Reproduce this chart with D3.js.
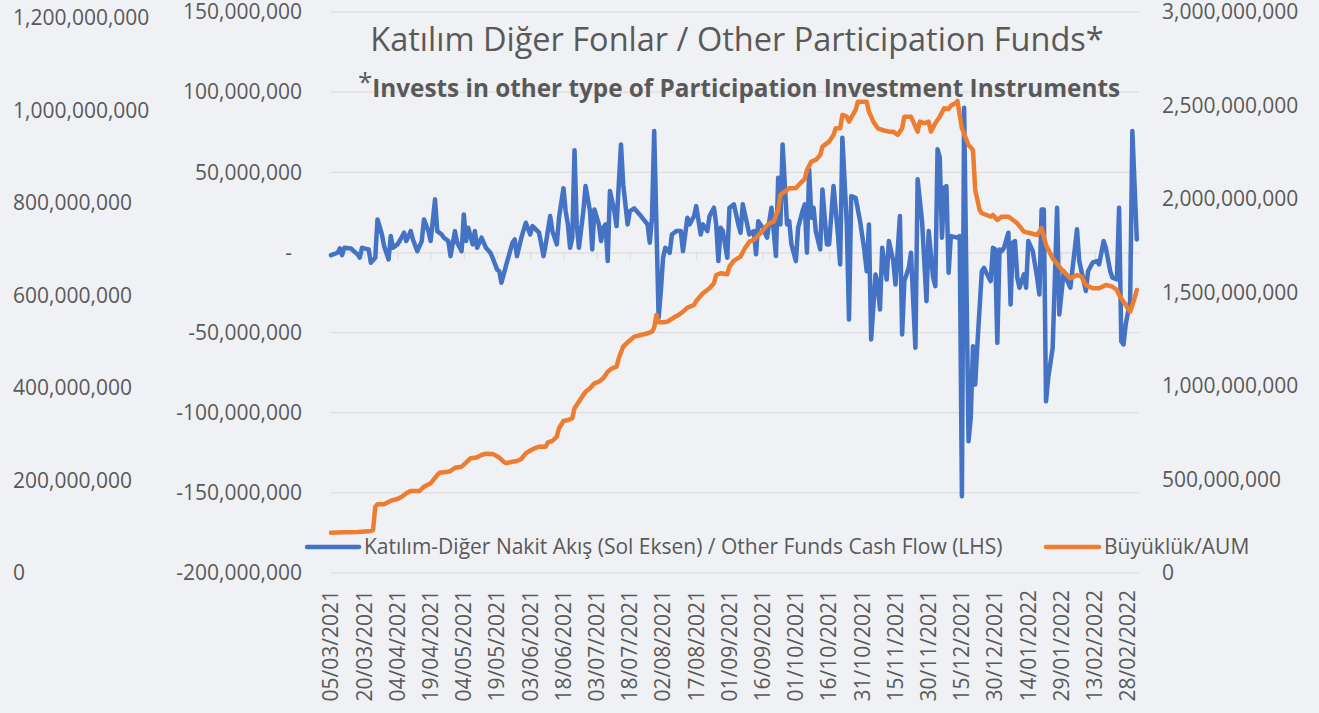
<!DOCTYPE html>
<html lang="tr">
<head>
    <meta charset="UTF-8">
    <title>Katılım Diğer Fonlar / Other Participation Funds</title>
    <script src="https://d3js.org/d3.v7.min.js"></script>
    <style>
        body{
            margin: 0;
            background-color: #f0f1f4;
        }
        #canvas{
            display: block;
            font-family: "Open Sans", sans-serif;
        }
        .lbl{
            font-size: 21px;
            fill: #595959;
        }
    </style>
</head>
<body>

<svg id="canvas" width="1319" height="713"></svg>

<script>
    // cash flow (left axis), millions TRY
    let flowDates = [
        "2021-03-05","2021-03-08","2021-03-09","2021-03-10","2021-03-11","2021-03-14","2021-03-15","2021-03-17","2021-03-18","2021-03-19",
        "2021-03-20","2021-03-22","2021-03-23","2021-03-25","2021-03-26","2021-03-28","2021-03-29","2021-03-31","2021-04-01","2021-04-02",
        "2021-04-04","2021-04-05","2021-04-07","2021-04-08","2021-04-10","2021-04-11","2021-04-13","2021-04-15","2021-04-16","2021-04-18",
        "2021-04-19","2021-04-21","2021-04-22","2021-04-24","2021-04-25","2021-04-27","2021-04-28","2021-04-30","2021-05-01","2021-05-03",
        "2021-05-04","2021-05-05","2021-05-06","2021-05-08","2021-05-09","2021-05-10","2021-05-12","2021-05-14","2021-05-16","2021-05-17",
        "2021-05-19","2021-05-20","2021-05-21","2021-05-23","2021-05-26","2021-05-27","2021-05-28","2021-05-30","2021-06-01","2021-06-03",
        "2021-06-04","2021-06-07","2021-06-09","2021-06-10","2021-06-12","2021-06-13","2021-06-15","2021-06-16","2021-06-18","2021-06-19",
        "2021-06-20","2021-06-21","2021-06-22","2021-06-23","2021-06-24","2021-06-25","2021-06-27","2021-06-28","2021-06-30","2021-07-01",
        "2021-07-02","2021-07-04","2021-07-05","2021-07-06","2021-07-07","2021-07-08","2021-07-09","2021-07-11","2021-07-12","2021-07-13",
        "2021-07-14","2021-07-15","2021-07-17","2021-07-18","2021-07-20","2021-07-23","2021-07-26","2021-07-27","2021-07-28","2021-07-29",
        "2021-07-31","2021-08-01","2021-08-02","2021-08-03","2021-08-05","2021-08-06","2021-08-08","2021-08-10","2021-08-11","2021-08-13",
        "2021-08-14","2021-08-16","2021-08-17","2021-08-19","2021-08-20","2021-08-22","2021-08-23","2021-08-25","2021-08-26","2021-08-27",
        "2021-08-28","2021-08-29","2021-08-31","2021-09-01","2021-09-03","2021-09-05","2021-09-06","2021-09-07","2021-09-09","2021-09-10",
        "2021-09-12","2021-09-13","2021-09-14","2021-09-16","2021-09-18","2021-09-19","2021-09-20","2021-09-22","2021-09-23","2021-09-24",
        "2021-09-25","2021-09-26","2021-09-27","2021-09-28","2021-09-29","2021-10-01","2021-10-02","2021-10-04","2021-10-05","2021-10-06",
        "2021-10-07","2021-10-08","2021-10-09","2021-10-10","2021-10-12","2021-10-13","2021-10-15","2021-10-16","2021-10-18","2021-10-20",
        "2021-10-21","2021-10-22","2021-10-24","2021-10-25","2021-10-26","2021-10-28","2021-10-30","2021-11-01","2021-11-02","2021-11-03",
        "2021-11-04","2021-11-06","2021-11-07","2021-11-08","2021-11-09","2021-11-11","2021-11-12","2021-11-14","2021-11-15","2021-11-17",
        "2021-11-18","2021-11-19","2021-11-21","2021-11-22","2021-11-23","2021-11-24","2021-11-25","2021-11-27","2021-11-28","2021-11-29",
        "2021-11-30","2021-12-02","2021-12-03","2021-12-04","2021-12-05","2021-12-06","2021-12-07","2021-12-08","2021-12-09","2021-12-10",
        "2021-12-13","2021-12-14","2021-12-15","2021-12-16","2021-12-18","2021-12-19","2021-12-20","2021-12-21","2021-12-22","2021-12-24",
        "2021-12-25","2021-12-26","2021-12-28","2021-12-29","2021-12-30","2021-12-31","2022-01-01","2022-01-02","2022-01-03","2022-01-05",
        "2022-01-06","2022-01-07","2022-01-08","2022-01-09","2022-01-10","2022-01-12","2022-01-13","2022-01-14","2022-01-16","2022-01-18",
        "2022-01-19","2022-01-20","2022-01-21","2022-01-22","2022-01-23","2022-01-25","2022-01-27","2022-01-28","2022-01-30","2022-01-31",
        "2022-02-02","2022-02-05","2022-02-06","2022-02-09","2022-02-10","2022-02-12","2022-02-14","2022-02-15","2022-02-17","2022-02-18",
        "2022-02-20","2022-02-21","2022-02-23","2022-02-24","2022-02-25","2022-02-26","2022-02-27","2022-03-01","2022-03-02","2022-03-04"
    ];
    let flowValues = [
        -1.7,-0.2,2.5,-1.7,2.9,2.5,1.2,-1.2,-3.3,2.9,
        2.5,1.9,-6.4,-3.3,20.6,11.2,3.9,-4.4,10.2,2.9,
        5.0,7.1,12.3,7.1,13.3,8.1,0.8,7.1,20.6,13.3,
        7.1,33.1,13.3,11.2,9.2,7.1,-2.3,13.3,6.1,0.8,
        23.7,7.1,15.4,5.0,13.3,2.9,9.2,2.9,-0.2,-3.3,
        -10.6,-11.7,-18.9,-8.5,6.1,8.1,-2.3,9.2,18.5,11.2,
        16.4,12.3,-2.3,5.0,22.7,13.3,5.0,21.7,40.0,25.8,
        17.5,2.9,9.2,63.7,17.5,2.9,25.8,41.4,25.8,1.9,
        26.8,17.5,7.1,15.4,17.5,-5.4,38.3,25.8,16.4,42.4,
        67.4,42.4,17.5,25.8,27.5,22.7,17.5,6.1,21.7,75.7,
        -40.8,-24.1,-3.3,2.9,-0.2,11.2,13.3,13.3,0.8,21.7,
        17.5,22.7,28.9,11.2,17.5,13.3,22.7,27.9,17.5,-5.4,
        15.4,13.3,-3.3,27.9,30.0,17.5,12.3,30.0,17.5,11.2,
        13.3,-1.2,19.5,15.4,9.2,19.5,27.9,-2.3,46.6,17.5,
        67.4,42.4,17.5,19.5,5.0,-5.4,15.4,25.8,30.0,-0.2,
        51.8,21.7,27.9,13.3,1.9,39.3,5.0,5.0,41.4,11.2,
        -7.5,71.6,17.5,-41.8,35.1,34.1,19.5,0.8,-11.7,17.5,
        -54.3,-13.7,-20.0,-35.6,2.9,-16.9,7.1,-5.4,-20.0,22.7,
        -51.2,-17.9,-9.6,-0.2,-30.4,-59.5,45.6,19.5,-5.4,-30.4,
        13.3,-15.8,-21.0,64.3,59.1,9.2,40.4,41.4,-12.7,10.2,
        9.2,10.2,-152.1,90.3,-117.8,-103.2,-58.5,-82.4,-57.4,-11.7,
        -9.6,-12.7,-17.9,2.9,1.9,-56.4,1.9,0.8,2.9,12.3,
        -32.5,6.1,7.1,-15.8,-22.0,-13.7,-22.0,7.1,0.8,-15.8,
        -26.2,26.8,26.8,-92.8,-78.2,-59.5,27.9,-38.7,-11.7,-15.8,
        -22.0,14.4,-5.4,-24.1,-11.7,-6.4,-5.4,-7.5,7.1,2.9,
        -11.7,-15.8,-16.9,27.9,-55.4,-57.4,-44.9,-30.4,75.7,8.1
    ];

    // assets under management (right axis), millions TRY
    let aumDates = [
        "2021-03-05","2021-03-11","2021-03-17","2021-03-22","2021-03-24","2021-03-25","2021-03-26","2021-03-29","2021-04-01","2021-04-04",
        "2021-04-06","2021-04-08","2021-04-10","2021-04-14","2021-04-16","2021-04-19","2021-04-22","2021-04-23","2021-04-27","2021-04-28",
        "2021-04-30","2021-05-03","2021-05-05","2021-05-07","2021-05-09","2021-05-10","2021-05-12","2021-05-14","2021-05-17","2021-05-18",
        "2021-05-20","2021-05-22","2021-05-23","2021-05-26","2021-05-28","2021-05-30","2021-06-01","2021-06-03","2021-06-05","2021-06-07",
        "2021-06-10","2021-06-11","2021-06-13","2021-06-15","2021-06-16","2021-06-18","2021-06-20","2021-06-22","2021-06-23","2021-06-24",
        "2021-06-26","2021-06-28","2021-06-30","2021-07-02","2021-07-04","2021-07-06","2021-07-08","2021-07-10","2021-07-12","2021-07-13",
        "2021-07-15","2021-07-17","2021-07-20","2021-07-23","2021-07-26","2021-07-28","2021-07-29","2021-07-30","2021-07-31","2021-08-02",
        "2021-08-04","2021-08-07","2021-08-09","2021-08-11","2021-08-13","2021-08-16","2021-08-17","2021-08-20","2021-08-23","2021-08-25",
        "2021-08-26","2021-08-28","2021-08-31","2021-09-01","2021-09-03","2021-09-06","2021-09-08","2021-09-10","2021-09-12","2021-09-15",
        "2021-09-17","2021-09-19","2021-09-21","2021-09-23","2021-09-24","2021-09-26","2021-09-28","2021-10-01","2021-10-03","2021-10-05",
        "2021-10-06","2021-10-08","2021-10-10","2021-10-12","2021-10-13","2021-10-16","2021-10-18","2021-10-19","2021-10-21","2021-10-22",
        "2021-10-24","2021-10-25","2021-10-28","2021-10-29","2021-10-31","2021-11-02","2021-11-03","2021-11-04","2021-11-05","2021-11-07",
        "2021-11-09","2021-11-12","2021-11-14","2021-11-16","2021-11-18","2021-11-19","2021-11-20","2021-11-22","2021-11-25","2021-11-26",
        "2021-11-28","2021-11-30","2021-12-01","2021-12-03","2021-12-05","2021-12-07","2021-12-09","2021-12-10","2021-12-12","2021-12-13",
        "2021-12-15","2021-12-18","2021-12-20","2021-12-21","2021-12-23","2021-12-24","2021-12-28","2021-12-29","2021-12-31","2022-01-02",
        "2022-01-05","2022-01-06","2022-01-09","2022-01-12","2022-01-15","2022-01-18","2022-01-20","2022-01-22","2022-01-25","2022-01-28",
        "2022-01-30","2022-02-02","2022-02-05","2022-02-07","2022-02-09","2022-02-12","2022-02-15","2022-02-18","2022-02-21","2022-02-23",
        "2022-02-24","2022-02-27","2022-03-01","2022-03-03","2022-03-04"
    ];
    let aumValues = [
        215.6,217.6,219.3,223.0,230.0,354.6,367.4,367.4,386.7,395.8,
        408.1,426.2,438.5,438.5,461.5,479.7,524.1,536.4,541.7,545.5,
        563.1,568.5,589.9,613.4,616.6,618.8,631.1,638.0,636.4,631.1,
        616.6,595.2,586.7,595.2,599.0,609.7,640.2,655.0,666.9,675.5,
        675.5,699.0,705.9,729.0,773.9,812.9,818.2,827.3,880.8,898.5,
        934.3,969.6,987.8,1014.5,1023.1,1041.2,1076.5,1094.7,1103.3,1148.2,
        1210.3,1233.8,1263.7,1272.8,1281.9,1290.5,1311.9,1379.8,1340.7,1340.7,
        1344.0,1367.5,1379.8,1397.4,1418.8,1433.3,1454.7,1495.8,1522.6,1549.3,
        1593.7,1602.8,1597.4,1638.1,1670.0,1691.6,1736.5,1771.8,1780.9,1816.7,
        1846.7,1870.2,1878.8,1941.3,2021.5,2039.2,2057.4,2057.4,2084.1,2107.1,
        2155.2,2199.6,2208.7,2235.5,2279.9,2306.6,2342.4,2378.2,2378.2,2449.4,
        2440.3,2413.6,2476.1,2520.5,2520.5,2520.5,2467.0,2440.3,2413.6,2378.2,
        2369.2,2360.1,2360.1,2342.4,2378.2,2440.3,2440.3,2440.3,2360.1,2413.6,
        2405.0,2413.6,2360.1,2405.0,2440.3,2485.2,2481.5,2499.2,2512.0,2524.3,
        2378.2,2288.9,2262.2,2050.0,1941.3,1923.7,1905.5,1914.6,1887.8,1905.5,
        1905.5,1896.9,1870.2,1825.3,1816.7,1807.6,1843.4,1754.1,1683.0,1638.1,
        1611.3,1576.0,1593.7,1584.6,1540.2,1522.6,1522.6,1540.2,1531.1,1513.4,
        1486.7,1433.3,1397.4,1469.1,1513.4
    ];

    let leftTicks = [-200, -150, -100, -50, 0, 50, 100, 150];
    let rightTicks = [0, 500, 1000, 1500, 2000, 2500, 3000];
    let outerTicks = [0, 200, 400, 600, 800, 1000, 1200];
    let dateTicks = ["05/03/2021","20/03/2021","04/04/2021","19/04/2021","04/05/2021","19/05/2021","03/06/2021",
        "18/06/2021","03/07/2021","18/07/2021","02/08/2021","17/08/2021","01/09/2021","16/09/2021","01/10/2021",
        "16/10/2021","31/10/2021","15/11/2021","30/11/2021","15/12/2021","30/12/2021","14/01/2022","29/01/2022",
        "13/02/2022","28/02/2022"];

    let titleText = "Katılım Diğer Fonlar / Other Participation Funds*";
    let subtitleText = "Invests in other type of Participation Investment Instruments";
    let flowName = "Katılım-Diğer Nakit Akış (Sol Eksen) / Other Funds Cash Flow (LHS)";
    let aumName = "Büyüklük/AUM";

    let blue = "#4472c4", orange = "#ed7d31", grey = "#595959", grid = "#d9d9d9";

    let svg = d3.select('svg');
    let parseIso = d3.timeParse("%Y-%m-%d");
    let parseDmy = d3.timeParse("%d/%m/%Y");
    // plain hyphen for negatives, like the spreadsheet
    let fmt = d3.formatLocale({decimal: ".", thousands: ",", grouping: [3], currency: ["", ""], minus: "-"}).format(",");

    let flow = flowDates.map(function (d, i) { return {date: parseIso(d), v: flowValues[i]}; });
    let aum = aumDates.map(function (d, i) { return {date: parseIso(d), v: aumValues[i]}; });

    let plotLeft = 331, plotRight = 1139, plotTop = 12, plotBottom = 573;

    let x = d3.scaleTime()
        .domain([parseIso("2021-03-05"), parseIso("2022-03-05")])
        .range([plotLeft, plotRight]);
    let yLeft = d3.scaleLinear().domain([-200, 150]).range([plotBottom, plotTop]);
    let yRight = d3.scaleLinear().domain([0, 3000]).range([plotBottom, plotTop]);
    let yOuter = d3.scaleLinear().domain([0, 1200]).range([plotBottom, 18]);

    // gridlines
    svg.append('g').selectAll('line')
        .data(leftTicks.filter(function (v) { return v !== 0; }))
        .enter()
        .append('line')
        .attr("x1", plotLeft).attr("x2", plotRight)
        .attr("y1", function (d) { return yLeft(d); })
        .attr("y2", function (d) { return yLeft(d); })
        .attr("stroke", grid)
        .attr("stroke-width", 1);

    // horizontal axis sits on the zero line, ticks every 15 days
    let xAxis = svg.append('g')
        .attr("transform", "translate(0," + yLeft(0) + ")")
        .call(d3.axisBottom(x)
            .tickValues(dateTicks.map(parseDmy))
            .tickSize(7)
            .tickSizeOuter(0)
            .tickFormat(""));
    xAxis.selectAll("path, line").attr("stroke", grid);

    // rotated date labels at the bottom
    svg.append('g').selectAll('text')
        .data(dateTicks)
        .enter()
        .append('text')
        .attr("class", "lbl")
        .attr("transform", function (d) { return "translate(" + x(parseDmy(d)) + ",590) rotate(-90)"; })
        .attr("text-anchor", "end")
        .attr("dy", "0.35em")
        .text(function (d) { return d; });

    function styleAxis(g) {
        g.select(".domain").remove();
        g.selectAll("line").remove();
        g.attr("font-family", null).attr("font-size", null);
        g.selectAll("text").attr("class", "lbl").attr("fill", null);
    }

    // left axis (cash flow)
    let leftAxis = svg.append('g')
        .attr("transform", "translate(302,0)")
        .call(d3.axisLeft(yLeft)
            .tickValues(leftTicks)
            .tickSize(0).tickPadding(0)
            .tickFormat(function (v) { return v === 0 ? "-" : fmt(v * 1e6); }))
        .call(styleAxis);
    leftAxis.selectAll(".tick")
        .filter(function (d) { return d === 0; })
        .select("text").attr("x", -10);

    // far-left scale
    svg.append('g')
        .attr("transform", "translate(13,0)")
        .call(d3.axisRight(yOuter)
            .tickValues(outerTicks)
            .tickSize(0).tickPadding(0)
            .tickFormat(function (v) { return fmt(v * 1e6); }))
        .call(styleAxis);

    // right axis (AUM)
    svg.append('g')
        .attr("transform", "translate(1162,0)")
        .call(d3.axisRight(yRight)
            .tickValues(rightTicks)
            .tickSize(0).tickPadding(0)
            .tickFormat(function (v) { return fmt(v * 1e6); }))
        .call(styleAxis);

    // series
    let flowLine = d3.line()
        .x(function (d) { return x(d.date); })
        .y(function (d) { return yLeft(d.v); });
    let aumLine = d3.line()
        .x(function (d) { return x(d.date); })
        .y(function (d) { return yRight(d.v); });

    svg.append('path')
        .datum(flow)
        .attr("d", flowLine)
        .attr("fill", "none")
        .attr("stroke", blue)
        .attr("stroke-width", 4.5)
        .attr("stroke-linejoin", "round")
        .attr("stroke-linecap", "round");

    svg.append('path')
        .datum(aum)
        .attr("d", aumLine)
        .attr("fill", "none")
        .attr("stroke", orange)
        .attr("stroke-width", 4.5)
        .attr("stroke-linejoin", "round")
        .attr("stroke-linecap", "round");

    // titles
    svg.append('text')
        .attr("x", 737).attr("y", 51)
        .attr("text-anchor", "middle")
        .attr("font-size", "32.5px")
        .attr("fill", grey)
        .text(titleText);

    let sub = svg.append('text')
        .attr("x", 739).attr("y", 97)
        .attr("text-anchor", "middle")
        .attr("fill", grey);
    sub.append('tspan')
        .attr("font-size", "26px")
        .attr("dy", -6)
        .text("*");
    sub.append('tspan')
        .attr("font-size", "24.3px")
        .attr("font-weight", "bold")
        .attr("dy", 6)
        .text(subtitleText);

    // legend
    let legend = svg.append('g');
    legend.append('line')
        .attr("x1", 307).attr("x2", 359).attr("y1", 547).attr("y2", 547)
        .attr("stroke", blue).attr("stroke-width", 4.5).attr("stroke-linecap", "round");
    legend.append('text')
        .attr("x", 364).attr("y", 547).attr("dy", "0.35em")
        .attr("font-size", "21px").attr("fill", grey)
        .text(flowName);
    legend.append('line')
        .attr("x1", 1046).attr("x2", 1099).attr("y1", 547).attr("y2", 547)
        .attr("stroke", orange).attr("stroke-width", 4.5).attr("stroke-linecap", "round");
    legend.append('text')
        .attr("x", 1104).attr("y", 547).attr("dy", "0.35em")
        .attr("font-size", "21px").attr("fill", grey)
        .text(aumName);
</script>

</body>
</html>
